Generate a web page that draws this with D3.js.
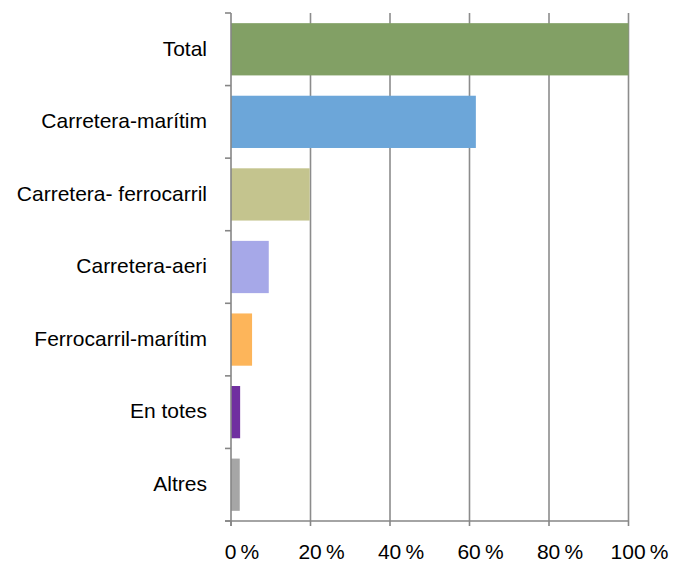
<!DOCTYPE html>
<html>
<head>
<meta charset="utf-8">
<script src="https://cdn.jsdelivr.net/npm/d3@7"></script>
<style>
  html, body { margin: 0; padding: 0; background: #fff; }
  svg text { font-family: "Liberation Sans", Arial, sans-serif; fill: #000; }
</style>
</head>
<body>
<svg id="chart" width="673" height="564"></svg>
<script>
const categories = ["Total", "Carretera-marítim", "Carretera- ferrocarril", "Carretera-aeri", "Ferrocarril-marítim", "En totes", "Altres"];
const values = [100, 61.6, 19.8, 9.5, 5.3, 2.3, 2.2];
const colors = ["#82a065", "#6ca6d9", "#c4c48e", "#a6a8e8", "#fdb55a", "#7030a0", "#a6a6a6"];
const xTicks = [0, 20, 40, 60, 80, 100];
const xTickLabels = ["0\u2009%", "20\u2009%", "40\u2009%", "60\u2009%", "80\u2009%", "100\u2009%"];

(function () {
const svg = d3.select("#chart");
const pLeft = 231, pRight = 628.5, pTop = 13, pBottom = 521;

const x = d3.scaleLinear().domain([0, 100]).range([pLeft, pRight]);
const y = d3.scaleBand().domain(categories).range([pTop, pBottom]).paddingInner(0.28).paddingOuter(0.14);

// gridlines
svg.append("g").selectAll("line").data(xTicks.slice(1)).join("line")
  .attr("x1", d => x(d)).attr("x2", d => x(d))
  .attr("y1", pTop).attr("y2", pBottom)
  .attr("stroke", "#8c8c8c").attr("stroke-width", 1.6);

// bars
svg.append("g").selectAll("rect").data(categories).join("rect")
  .attr("x", x(0))
  .attr("y", d => y(d))
  .attr("width", (d, i) => x(values[i]) - x(0))
  .attr("height", y.bandwidth())
  .attr("fill", (d, i) => colors[i]);

// y axis
const yAxisG = svg.append("g");
yAxisG.append("line").attr("x1", pLeft).attr("x2", pLeft).attr("y1", pTop).attr("y2", pBottom + 5)
  .attr("stroke", "#868686").attr("stroke-width", 1.6);
const step = (pBottom - pTop) / categories.length;
const yTickPos = d3.range(categories.length + 1).map(i => pTop + i * step);
yAxisG.selectAll("line.t").data(yTickPos).join("line").attr("class", "t")
  .attr("x1", pLeft - 6).attr("x2", pLeft).attr("y1", d => d).attr("y2", d => d)
  .attr("stroke", "#868686").attr("stroke-width", 1.6);
yAxisG.selectAll("text").data(categories).join("text")
  .attr("x", 207).attr("y", d => y(d) + y.bandwidth() / 2 - 1)
  .attr("dy", "0.35em").attr("text-anchor", "end").attr("font-size", 21)
  .text(d => d);

// x axis
const xAxisG = svg.append("g");
xAxisG.append("line").attr("x1", pLeft - 6).attr("x2", pRight).attr("y1", pBottom).attr("y2", pBottom)
  .attr("stroke", "#868686").attr("stroke-width", 1.6);
xAxisG.selectAll("line.t").data(xTicks).join("line").attr("class", "t")
  .attr("x1", d => x(d)).attr("x2", d => x(d)).attr("y1", pBottom).attr("y2", pBottom + 5)
  .attr("stroke", "#868686").attr("stroke-width", 1.6);
xAxisG.selectAll("text").data(xTicks).join("text")
  .attr("x", d => x(d) + 11).attr("y", 559)
  .attr("text-anchor", "middle").attr("font-size", 21)
  .text((d, i) => xTickLabels[i]);
})();
</script>
</body>
</html>
